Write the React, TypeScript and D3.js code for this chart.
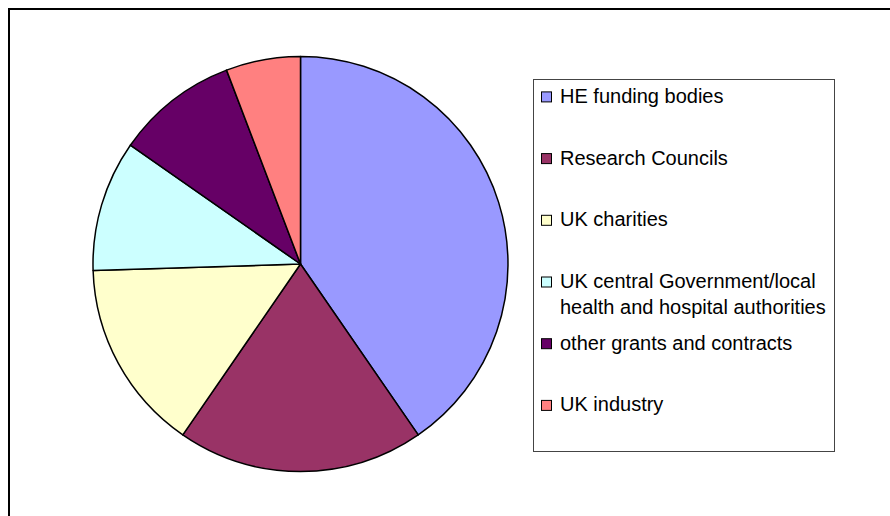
import React from "react";
import * as d3 from "d3";

const categories = [
  "HE funding bodies",
  "Research Councils",
  "UK charities",
  "UK central Government/local health and hospital authorities",
  "other grants and contracts",
  "UK industry",
];
const values = [40.4, 19.2, 14.9, 10.2, 9.5, 5.8];
const colors = ["#9999FF", "#993366", "#FFFFCC", "#CCFFFF", "#660066", "#FF8080"];
const legendLines = [
  ["HE funding bodies"],
  ["Research Councils"],
  ["UK charities"],
  ["UK central Government/local", "health and hospital authorities"],
  ["other grants and contracts"],
  ["UK industry"],
];

export default function App() {
  const W = 890;
  const H = 516;
  const cx = 300.5;
  const cy = 264;
  const r = 207.5;
  const pie = d3.pie<number>().sort(null).value((d) => d)(values);
  const arc = d3.arc<d3.PieArcDatum<number>>().innerRadius(0).outerRadius(r);

  const legendY = d3.scaleLinear().domain([0, 1]).range([103.3, 165]);

  return (
    <svg
      width={W}
      height={H}
      style={{ display: "block", position: "absolute", left: 0, top: 0 }}
    >
      <rect x={9} y={9} width={1000} height={1000} fill="#fff" stroke="#000" strokeWidth={2} />
      <g transform={`translate(${cx},${cy})`}>
        {pie.map((p, i) => (
          <path key={i} d={arc(p) || ""} fill={colors[i]} stroke="#000" strokeWidth={1.5} strokeLinejoin="round" />
        ))}
      </g>
      <rect x={533.5} y={79.5} width={301} height={372} fill="#fff" stroke="#444" strokeWidth={1} />
      {categories.map((c, i) => {
        const y = legendY(i) - 0.4;
        return (
          <g key={c}>
            <rect x={541.5} y={y - 11} width={10} height={10} fill={colors[i]} stroke="#000" strokeWidth={1} />
            <text x={560} y={y} fontFamily="Liberation Sans, Arial, sans-serif" fontSize={20} fill="#000">
              {legendLines[i].map((l, j) => (
                <tspan key={j} x={560} dy={j === 0 ? 0 : 26.4}>
                  {l}
                </tspan>
              ))}
            </text>
          </g>
        );
      })}
    </svg>
  );
}
